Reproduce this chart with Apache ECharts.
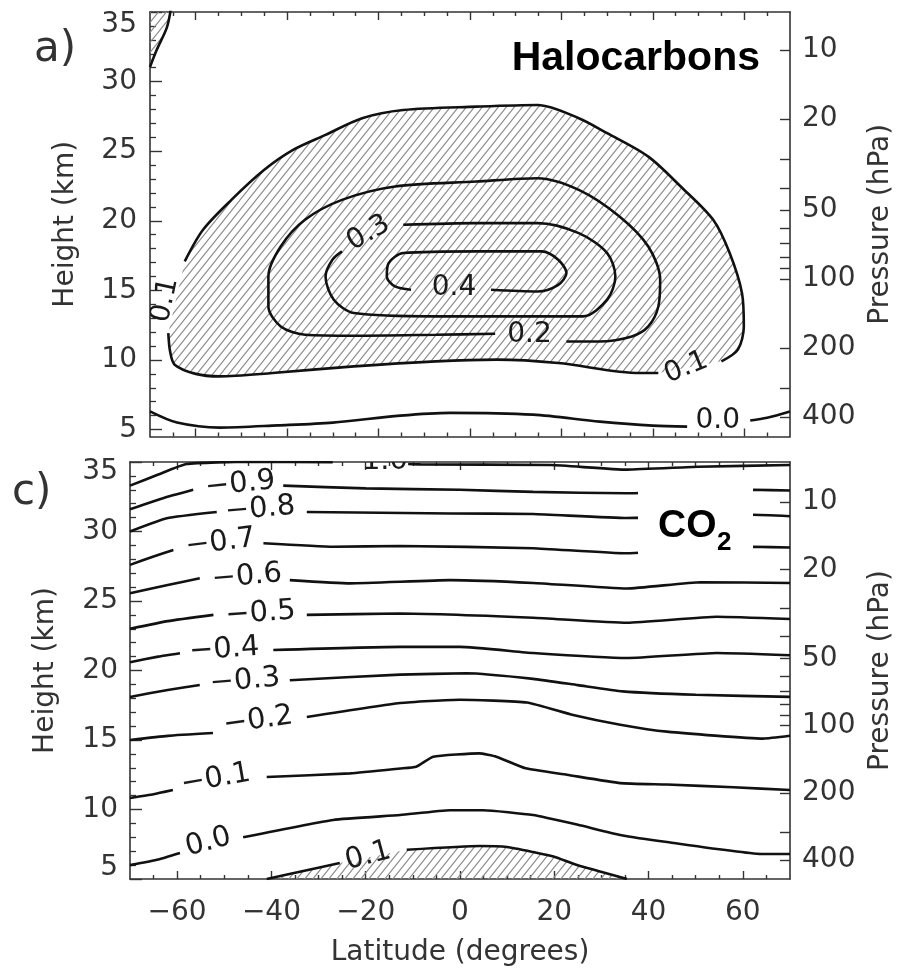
<!DOCTYPE html>
<html><head><meta charset="utf-8">
<script src="https://cdn.jsdelivr.net/npm/echarts@6/dist/echarts.min.js"></script>
<style>html,body{margin:0;padding:0;background:#fff}#c{width:897px;height:968px}</style>
</head><body><div id="c"></div>
<script>
// ---------- axes ----------
const latRange = [-70, 70];
const latTicks = [-60, -40, -20, 0, 20, 40, 60];
const latMinorTicks = [-65, -55, -50, -45, -35, -30, -25, -15, -10, -5, 5, 10, 15, 25, 30, 35, 45, 50, 55, 65];
const heightTicks = [5, 10, 15, 20, 25, 30, 35];
const heightMinorTicks = [6, 7, 8, 9, 11, 12, 13, 14, 16, 17, 18, 19, 21, 22, 23, 24, 26, 27, 28, 29, 31, 32, 33, 34];
const pressureTicks = [10, 20, 50, 100, 200, 400];
const pressureMinorTicks = [30, 40, 60, 70, 80, 90, 300];
const haloHeightRange = [4.5, 35];
const co2HeightRange = [5, 35];
const haloPressureRange = [6.82, 487];
const co2PressureRange = [6.62, 486];

// ---------- panel a: halocarbons (lat, height km) ----------
const halo00a = [[-70,6.3],[-64.1,5.5],[-54.7,5.14],[-42,5.3],[-30,5.5],[-15.3,6.0],[-4.4,6.2],[13.8,6.07],[28.4,5.57],[40,5.28],[47.5,5.21]];
const halo00b = [[61.3,5.65],[65,5.85],[70,6.3]];
const halo01a = [[-66.0,11.93],[-65.6,10.6],[-64.6,9.66],[-60,9.0],[-54.8,8.82],[-43.2,9.06],[-25.4,9.54],[-7.5,9.9],[5.9,10.02],[19.3,9.78],[37.1,9.06],[41.2,9.06]];
const halo01b = [[55.0,9.9],[58.6,10.74],[59.9,12.41],[59.5,14.8],[56.8,17.68],[53.2,20.07],[46.1,22.46],[39.0,24.61],[30.0,26.29],[23.8,27.37],[14.8,28.32],[1.4,28.2],[-14.6,27.96],[-23.6,27.37],[-31.6,26.17],[-38.7,25.09],[-45.0,23.66],[-52.2,21.5],[-58.4,19.35],[-62.4,17.08]];
const halo01corner = [[-70,31.05],[-68.5,32.3],[-66.3,33.9],[-65.4,35.3]];
const halo02 = [[5.5,11.88],[-7.5,11.81],[-25.4,11.74],[-36.1,11.81],[-41.4,12.41],[-44.1,13.84],[-44.1,16.0],[-41.4,18.15],[-36.1,20.07],[-28.0,21.5],[-16.4,22.46],[1.4,22.82],[14.8,23.06],[23.8,22.22],[32.7,20.31],[39.0,18.15],[41.6,15.76],[41.2,13.84],[39.0,12.41],[35.4,11.69],[28.2,11.33],[21.1,11.33]];
const halo03 = [[-14.6,19.71],[1.4,19.83],[14.8,19.83],[23.8,19.11],[30.0,17.68],[31.8,16.0],[30.0,14.33],[24.7,13.13],[10.4,13.13],[-7.5,13.13],[-25.4,13.37],[-29.8,14.33],[-31.6,16.0],[-30.1,17.2],[-28.0,17.8]];
const halo04 = [[4.6,15.04],[14.8,14.92],[19.3,15.4],[21.1,16.24],[19.3,17.2],[15.7,17.8],[1.4,17.8],[-14.6,17.68],[-17.8,16.96],[-18.2,16.0],[-16.4,15.28],[-12.9,15.04]];
const haloLabels = [[-66.7,14.3,'0.1'],[-22.2,19.11,'0.3'],[-3.5,15.17,'0.4'],[13.0,11.81,'0.2'],[47.3,9.45,'0.1'],[54.2,5.6,'0.0']];
const haloLabelAngles = [78, 30, 0, 0, 22, 0];

// ---------- panel c: CO2 ----------
const co2m10a = [[-70,33.3],[-64,34.1],[-58,34.85],[-45,35.02],[-27,34.98]];
const co2m10b = [[-11,34.86],[-8.4,34.83],[19.3,34.78],[35.4,34.45],[50.5,34.66],[70,34.78]];
const co2m09a = [[-70,31.6],[-63,32.4],[-56.6,33.0]];
const co2m09b = [[-37.5,33.3],[-20,33.1],[0,33.0],[15.5,32.85],[35.4,32.75],[50,32.9],[62,33.0],[70,32.95]];
const co2m08a = [[-70,30.0],[-62.2,30.95],[-51.6,31.4]];
const co2m08b = [[-32.5,31.4],[-2,31.3],[15.5,31.26],[35.4,30.97],[62,31.2],[70,31.1]];
const co2m07a = [[-70,27.6],[-65,28.2],[-60.8,28.67]];
const co2m07b = [[-41.7,29.15],[-26.9,28.9],[-12.7,28.96],[15.5,28.8],[35.4,28.43],[62,28.9],[70,28.85]];
const co2m06a = [[-70,25.55],[-62,26.15],[-55.2,26.63]];
const co2m06b = [[-36.1,26.5],[-23.3,26.27],[-2.1,26.5],[15.5,26.3],[35.4,25.9],[51,26.35],[70,26.3]];
const co2m05a = [[-70,23.0],[-62,23.55],[-52.3,24.0]];
const co2m05b = [[-32.5,24.0],[-12.7,24.1],[15.5,23.8],[35.4,23.44],[54.5,23.87],[70,23.7]];
const co2m04a = [[-70,20.6],[-64,21.0],[-59.4,21.24]];
const co2m04b = [[-39.6,21.47],[-12.7,21.7],[0,21.7],[15.5,21.26],[35.4,20.9],[54.5,21.26],[70,21.1]];
const co2m03a = [[-70,18.1],[-62,18.6],[-55.2,18.96]];
const co2m03b = [[-36.1,19.3],[-12.7,19.7],[1.4,19.8],[15.5,19.4],[25,18.95],[34.5,18.5],[50,18.25],[70,18.1]];
const co2m02a = [[-70,15.0],[-62,15.3],[-52.4,15.5]];
const co2m02b = [[-32.5,16.65],[-12.7,17.66],[0,17.9],[14.2,17.7],[24,16.8],[34,16.1],[43.9,15.6],[64.3,15.1],[70,15.3]];
const co2m01a = [[-70,10.83],[-65,11.1],[-60.9,11.4]];
const co2m01b = [[-41,12.34],[-23.3,12.6],[-12.7,12.95],[-9.3,13.08],[-5.7,13.8],[4.1,14.04],[7.7,13.8],[13.9,12.96],[22.7,12.5],[34,11.9],[43.9,11.8],[58,11.6],[70,11.4]];
const co2p00a = [[-70,6.0],[-64,6.4],[-59.4,6.87]];
const co2p00b = [[-46,8.0],[-26.9,9.25],[-12.7,9.6],[-2.1,9.95],[4.9,9.95],[15.5,9.6],[25,8.9],[34,8.17],[43.9,7.66],[64.3,6.8],[70,6.8]];
const co2p01a = [[-41,5.0],[-33,5.6],[-25.5,6.15]];
const co2p01b = [[-11.3,7.1],[4.2,7.37],[10,7.3],[15.5,6.94],[20,6.6],[24.8,6.0],[35.4,5.0]];
const co2Labels = [[-18.5,35.02,'−1.0'],[-46.6,33.4,'−0.9'],[-42.4,31.6,'−0.8'],[-50.8,29.2,'−0.7'],[-45.2,26.75,'−0.6'],[-42.3,24.1,'−0.5'],[-50,21.5,'−0.4'],[-45.6,19.25,'−0.3'],[-42.8,16.4,'−0.2'],[-51.8,12.2,'−0.1'],[-53.4,7.65,'0.0'],[-19.5,6.65,'0.1']];
const co2LabelAngles = [0, 6, 5, 7, 5, 4, 4, 5, 8, 10, 15, 15];

// ---------- styling ----------
const FONT = '"DejaVu Sans", sans-serif';
const AX = '#333';
const TXT = '#333';

const hc = document.createElement('canvas');
hc.width = 8; hc.height = 10;
const g = hc.getContext('2d');
g.strokeStyle = '#8c8c8c'; g.lineWidth = 1.1;
g.beginPath();
g.moveTo(-1, 11.25); g.lineTo(9, -1.25);
g.moveTo(7, 11.25); g.lineTo(9, 8.75);
g.moveTo(-1, 1.25); g.lineTo(1, -1.25);
g.stroke();
const hatch = { image: hc, repeat: 'repeat' };

function xAxes(gi, showLabels) {
  const base = { type: 'value', gridIndex: gi, min: latRange[0], max: latRange[1], splitLine: { show: false } };
  const line = { onZero: false, lineStyle: { color: AX, width: 1.6 } };
  const noline = { show: false, onZero: false };
  const tk = (vals, len) => ({ inside: true, length: len, customValues: vals, lineStyle: { color: AX, width: 1.4 } });
  return [
    Object.assign({}, base, { position: 'bottom', axisLine: line, axisTick: tk(latTicks, 8),
      axisLabel: { show: showLabels, customValues: latTicks, margin: 20, fontSize: 28, fontFamily: FONT, color: TXT,
        formatter: v => String(v).replace('-', '−') },
      name: showLabels ? 'Latitude (degrees)' : '', nameLocation: 'middle', nameGap: 60,
      nameTextStyle: { fontSize: 28, fontFamily: FONT, color: TXT } }),
    Object.assign({}, base, { position: 'bottom', axisLine: noline, axisTick: tk(latMinorTicks, 4), axisLabel: { show: false } }),
    Object.assign({}, base, { position: 'top', axisLine: line, axisTick: tk(latTicks, 8), axisLabel: { show: false } }),
    Object.assign({}, base, { position: 'top', axisLine: noline, axisTick: tk(latMinorTicks, 4), axisLabel: { show: false } })
  ];
}
function yAxes(gi, hr, pr, labelFmt, rich, lm, rm) {
  const line = { onZero: false, lineStyle: { color: AX, width: 1.6 } };
  return [
    { type: 'value', gridIndex: gi, position: 'left', min: hr[0], max: hr[1], splitLine: { show: false }, axisLine: line,
      axisTick: { inside: true, length: 12, customValues: heightTicks, lineStyle: { color: AX, width: 1.4 } },
      axisLabel: { customValues: heightTicks, margin: lm, fontSize: 28, fontFamily: FONT, color: TXT, formatter: labelFmt, rich: rich },
      name: 'Height (km)', nameLocation: 'middle', nameGap: 70, nameRotate: 90,
      nameTextStyle: { fontSize: 28, fontFamily: FONT, color: TXT } },
    { type: 'value', gridIndex: gi, position: 'left', min: hr[0], max: hr[1], splitLine: { show: false },
      axisLine: { show: false, onZero: false },
      axisTick: { inside: true, length: 6, customValues: heightMinorTicks, lineStyle: { color: AX, width: 1.3 } },
      axisLabel: { show: false } },
    { type: 'log', logBase: 10, gridIndex: gi, position: 'right', min: pr[0], max: pr[1], inverse: true,
      splitLine: { show: false }, minorTick: { show: false }, axisLine: line,
      axisTick: { inside: true, length: 10, customValues: pressureTicks.concat(pressureMinorTicks), lineStyle: { color: AX, width: 1.4 } },
      axisLabel: { customValues: pressureTicks, margin: rm, fontSize: 28, fontFamily: FONT, color: TXT, formatter: v => String(Math.round(v)) },
      name: 'Pressure (hPa)', nameLocation: 'middle', nameGap: 70, nameRotate: 90,
      nameTextStyle: { fontSize: 28, fontFamily: FONT, color: TXT } }
  ];
}
const richBase = { fontSize: 28, fontFamily: FONT, color: TXT };

function lines(segs, xi, yi, smooth) {
  return segs.map(seg => ({ type: 'line', xAxisIndex: xi, yAxisIndex: yi, data: seg, symbol: 'none', smooth: smooth,
    silent: true, z: 3, lineStyle: { color: '#111', width: 2.6 } }));
}
function hatchSeries(polys, xi, yi) {
  return { type: 'custom', xAxisIndex: xi, yAxisIndex: yi, silent: true, z: 1,
    data: polys.map(p => p[0]),
    renderItem: function (params, api) {
      const poly = polys[params.dataIndex];
      const cs = params.coordSys;
      return { type: 'polygon', shape: { points: poly.map(p => api.coord(p)) },
        style: { fill: hatch, stroke: null },
        clipPath: { type: 'rect', shape: { x: cs.x, y: cs.y, width: cs.width, height: cs.height } } };
    } };
}
function labelSeries(labels, angles, xi, yi, fs) {
  return { type: 'custom', xAxisIndex: xi, yAxisIndex: yi, silent: true, z: 4,
    data: labels.map(l => [l[0], l[1]]),
    renderItem: function (params, api) {
      const l = labels[params.dataIndex];
      const p = api.coord([l[0], l[1]]);
      const cs = params.coordSys;
      return { type: 'group',
        clipPath: { type: 'rect', shape: { x: cs.x, y: cs.y, width: cs.width, height: cs.height } },
        children: [{ type: 'text', x: p[0], y: p[1], rotation: angles[params.dataIndex] * Math.PI / 180,
          style: { text: l[2], x: 0, y: 0, align: 'center', verticalAlign: 'middle', fill: '#1a1a1a',
            fontSize: fs, fontFamily: FONT } }] };
    } };
}

const series = [].concat(
  hatchSeries([halo01a.concat(halo01b), halo01corner.concat([[-70, 35.3]])], 0, 0),
  lines([halo00a, halo00b, halo01a, halo01b, halo01corner, halo02, halo03, halo04], 0, 0, 0.3),
  labelSeries(haloLabels, haloLabelAngles, 0, 0, 28),
  hatchSeries([co2p01a.concat(co2p01b)], 4, 3),
  lines([co2m10a, co2m10b, co2m09a, co2m09b, co2m08a, co2m08b, co2m07a, co2m07b, co2m06a, co2m06b,
         co2m05a, co2m05b, co2m04a, co2m04b, co2m03a, co2m03b, co2m02a, co2m02b, co2m01a, co2m01b,
         co2p00a, co2p00b, co2p01a, co2p01b], 4, 3, 0.15),
  labelSeries(co2Labels, co2LabelAngles, 4, 3, 29)
);

const option = {
  animation: false,
  backgroundColor: '#fff',
  grid: [
    { left: 150, top: 12, width: 640, height: 424.5, outerBoundsMode: 'none' },
    { left: 130, top: 462, width: 660, height: 417, outerBoundsMode: 'none' }
  ],
  xAxis: [].concat(xAxes(0, false), xAxes(1, true)),
  yAxis: [].concat(
    yAxes(0, haloHeightRange, haloPressureRange,
      v => v === 35 ? '{t|35}' : String(v),
      { t: Object.assign({ padding: [26, 0, 0, 0] }, richBase) }, 13, 12),
    yAxes(1, co2HeightRange, co2PressureRange,
      v => v === 35 ? '{t|35}' : (v === 5 ? '{b|5}' : String(v)),
      { t: Object.assign({ padding: [20, 0, 0, 0] }, richBase), b: Object.assign({ padding: [0, 0, 22, 0] }, richBase) }, 12, 12)
  ),
  series: series,
  graphic: [
    { type: 'text', x: 34, y: 50, z: 100, style: { text: 'a)', align: 'left', verticalAlign: 'middle', fontSize: 42, fontFamily: FONT, fill: TXT } },
    { type: 'text', x: 12, y: 493, z: 100, style: { text: 'c)', align: 'left', verticalAlign: 'middle', fontSize: 42, fontFamily: FONT, fill: TXT } },
    { type: 'text', x: 760, y: 59, z: 100, style: { text: 'Halocarbons', align: 'right', verticalAlign: 'middle', fontSize: 41, fontWeight: 'bold', fontFamily: '"Liberation Sans", Arial, sans-serif', fill: '#000' } },
    { type: 'rect', z: 100, shape: { x: 638, y: 487, width: 115, height: 71 }, style: { fill: '#fff' } },
    { type: 'text', x: 658, y: 526, z: 101, style: { text: 'CO', align: 'left', verticalAlign: 'middle', fontSize: 39, fontWeight: 'bold', fontFamily: '"Liberation Sans", Arial, sans-serif', fill: '#000' } },
    { type: 'text', x: 717, y: 543, z: 101, style: { text: '2', align: 'left', verticalAlign: 'middle', fontSize: 26, fontWeight: 'bold', fontFamily: '"Liberation Sans", Arial, sans-serif', fill: '#000' } }
  ]
};
const chart = echarts.init(document.getElementById('c'), null, { renderer: 'canvas' });
chart.setOption(option);
</script></body></html>
